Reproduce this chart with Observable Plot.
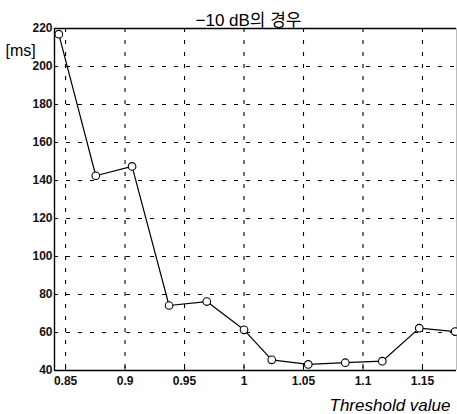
<!DOCTYPE html>
<html>
<head>
<meta charset="utf-8">
<script src="https://cdn.jsdelivr.net/npm/d3@7"></script>
<script src="https://cdn.jsdelivr.net/npm/@observablehq/plot@0.6"></script>
<style>
  html, body { margin: 0; padding: 0; background: #fff; }
  svg { display: block; }
</style>
</head>
<body>
<div id="chart"></div>
<script>
const titleText = "\u221210 dB\uC758 \uACBD\uC6B0";
const yUnit = "[ms]";
const xLabel = "Threshold value";
const thresholds = [0.8443, 0.8754, 0.9059, 0.937, 0.9687, 1.0, 1.0233, 1.054, 1.0851, 1.1162, 1.1473, 1.1775];
const delayMs = [217, 142.5, 147.4, 74.2, 76.3, 61.4, 45.6, 43.2, 44.1, 44.9, 62.3, 60.5];
const xTicks = [0.85, 0.9, 0.95, 1, 1.05, 1.1, 1.15];
const yTicks = [40, 60, 80, 100, 120, 140, 160, 180, 200, 220];
const xDomain = [0.8407, 1.1786];
const yDomain = [40, 220];

const data = thresholds.map((t, i) => ({t, v: delayMs[i]}));
const font = "'Liberation Sans', Arial, 'Noto Sans CJK KR', sans-serif";

const chart = Plot.plot({
  width: 457,
  height: 414,
  marginLeft: 54,
  marginRight: 1,
  marginTop: 28,
  marginBottom: 44,
  style: {fontFamily: font, background: "#fff", color: "#000"},
  x: {domain: xDomain},
  y: {domain: yDomain},
  marks: [
    Plot.gridX(xTicks, {stroke: "#000", strokeOpacity: 1, strokeWidth: 1.1, strokeDasharray: "4,8"}),
    Plot.gridY(yTicks, {stroke: "#000", strokeOpacity: 1, strokeWidth: 1.1, strokeDasharray: "4,8"}),
    Plot.ruleY([yDomain[1]], {stroke: "#000", strokeWidth: 1.6}),
    Plot.ruleY([yDomain[0]], {stroke: "#000", strokeWidth: 1.4}),
    Plot.ruleX([xDomain[0]], {stroke: "#000", strokeWidth: 1.4}),
    Plot.ruleX([xDomain[1]], {stroke: "#bbb", strokeWidth: 1}),
    Plot.axisY(yTicks, {tickSize: 0, tickPadding: 2, label: null, fontSize: 12, fontWeight: "bold", fill: "#111", tickFormat: d => String(d)}),
    Plot.axisX(xTicks, {tickSize: 0, tickPadding: 6, label: null, fontSize: 12, fontWeight: "bold", fill: "#111", tickFormat: d => String(d)}),
    Plot.axisY(yTicks, {tickSize: -4, text: null, label: null, stroke: "#000"}),
    Plot.axisX(xTicks, {tickSize: -4, text: null, label: null, stroke: "#000"}),
    Plot.line(data, {x: "t", y: "v", stroke: "#000", strokeWidth: 1.2}),
    Plot.dot(data, {x: "t", y: "v", r: 3.8, stroke: "#000", strokeWidth: 1.1, fill: "#fff"}),
    Plot.text([titleText], {frameAnchor: "top", dx: -7, dy: -3, lineAnchor: "bottom", fontSize: 17, fill: "#000"}),
    Plot.text([yUnit], {frameAnchor: "top-left", dx: -49, dy: 22, textAnchor: "start", lineAnchor: "middle", fontSize: 16, fill: "#000"}),
    Plot.text([xLabel], {frameAnchor: "bottom-right", dx: -6, dy: 40, textAnchor: "end", lineAnchor: "bottom", fontSize: 17, fontStyle: "italic", fill: "#000"})
  ]
});
document.getElementById("chart").appendChild(chart);
</script>
</body>
</html>
